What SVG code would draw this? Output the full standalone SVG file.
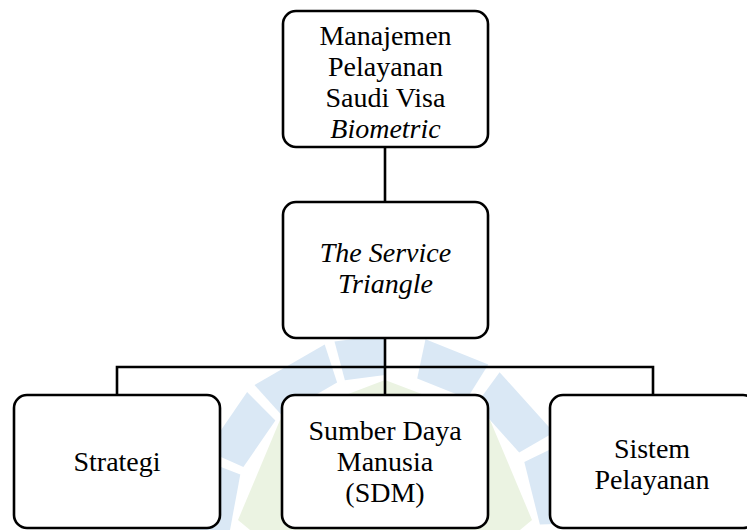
<svg xmlns="http://www.w3.org/2000/svg" width="747" height="530" viewBox="0 0 747 530">
<style>
.box{fill:#ffffff;stroke:#000000;stroke-width:2.6}
.conn{fill:none;stroke:#000000;stroke-width:2.6;stroke-linecap:square}
.t{font-family:"Liberation Serif","Times New Roman",serif;font-size:28px;fill:#000000;text-anchor:middle}
.i{font-style:italic}
.wb{fill:#dae8f5}
.wg{fill:#ebf3e2}
</style>
<rect width="747" height="530" fill="#ffffff"/>
<g id="watermark">
<polygon class="wg" points="385,380 490,420 532,520 520,530 250,530 238,520 280,420"/>
<polygon class="wb" points="190,530 202.9,460.1 240.3,474.4 230,530"/>
<polygon class="wb" points="206.9,450.7 247.1,392.1 275.4,420.4 243.4,467.0"/>
<polygon class="wb" points="254.5,385.1 324.7,344.5 337.1,382.6 281.3,414.8"/>
<polygon class="wb" points="334.5,341.6 385,335 385,375 344.9,380.3"/>
<polygon class="wb" points="425.5,339.3 488.3,364.6 467.1,398.6 417.2,378.4"/>
<polygon class="wb" points="499.6,372.2 553.9,432.5 519.2,452.5 476.1,404.6"/>
<polygon class="wb" points="560.3,444.5 579.9,523.2 539.9,524.6 524.3,462"/>
</g>
<g id="connectors">
<path class="conn" d="M385,147 V202"/>
<path class="conn" d="M385,338 V395"/>
<path class="conn" d="M117,395 V367 H653 V395"/>
</g>
<g id="node-manajemen">
<rect class="box" x="283" y="11" width="205" height="136" rx="13"/>
<text class="t" x="385.5" y="44.5">Manajemen</text>
<text class="t" x="385.5" y="75.5">Pelayanan</text>
<text class="t" x="385.5" y="106.5">Saudi Visa</text>
<text class="t i" x="385.5" y="137.5">Biometric</text>
</g>
<g id="node-service-triangle">
<rect class="box" x="283" y="202" width="205" height="136" rx="13"/>
<text class="t i" x="385.5" y="261.5">The Service</text>
<text class="t i" x="385.5" y="292.5">Triangle</text>
</g>
<g id="node-strategi">
<rect class="box" x="14" y="395" width="206" height="133" rx="13"/>
<text class="t" x="117" y="471">Strategi</text>
</g>
<g id="node-sdm">
<rect class="box" x="282" y="395" width="206" height="133" rx="13"/>
<text class="t" x="385" y="439.5">Sumber Daya</text>
<text class="t" x="385" y="470.5">Manusia</text>
<text class="t" x="385" y="501.5">(SDM)</text>
</g>
<g id="node-sistem">
<rect class="box" x="550" y="395" width="206" height="133" rx="13"/>
<text class="t" x="652" y="457.5">Sistem</text>
<text class="t" x="652" y="488.5">Pelayanan</text>
</g>
</svg>
